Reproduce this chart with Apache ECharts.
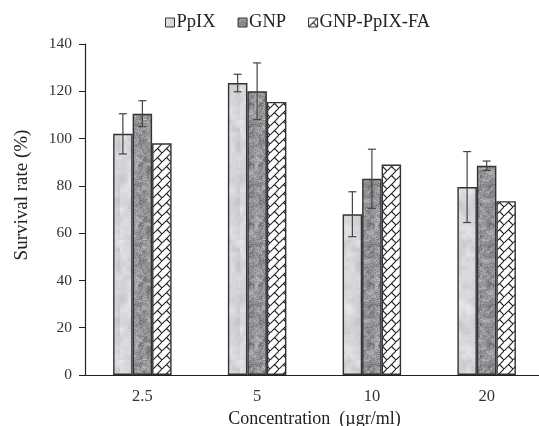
<!DOCTYPE html>
<html>
<head>
<meta charset="utf-8">
<script src="https://cdn.jsdelivr.net/npm/echarts@6/dist/echarts.min.js"></script>
<style>
  html, body { margin: 0; padding: 0; background: #fff; }
  #chart { width: 539px; height: 426px; }
</style>
</head>
<body>
<div id="chart"></div>
<script>
// Cell viability at each concentration (mean and standard deviation)
const categories = ['2.5', '5', '10', '20'];
const seriesNames = ['PpIX', 'GNP', 'GNP-PpIX-FA'];
const ppixMean = [102, 123.5, 68, 79.5];
const ppixErr = [8.5, 3.7, 9.5, 15];
const gnpMean = [110.5, 120, 83, 88.5];
const gnpErr = [5.5, 12, 12.5, 2];
const faMean = [98, 115.5, 89, 73.5];
const faErr = [0, 0, 0, 0];

const FONT = '"Liberation Serif", "Times New Roman", serif';

// deterministic hash noise for the bar textures
function hash(x, y, s) {
  let h = (x * 374761393 + y * 668265263 + s * 1442695041) | 0;
  h = (h ^ (h >>> 13)) * 1274126177 | 0;
  h = h ^ (h >>> 16);
  return ((h >>> 0) % 10000) / 10000;
}
function smoothNoise(x, y, scale, s) {
  const gx = Math.floor(x / scale), gy = Math.floor(y / scale);
  const fx = x / scale - gx, fy = y / scale - gy;
  const a = hash(gx, gy, s), b = hash(gx + 1, gy, s);
  const c = hash(gx, gy + 1, s), d = hash(gx + 1, gy + 1, s);
  const ux = fx * fx * (3 - 2 * fx), uy = fy * fy * (3 - 2 * fy);
  return a + (b - a) * ux + (c - a) * uy + (a - b - c + d) * ux * uy;
}
function textureCanvas(w, h, base, amp, scale, seed, speck) {
  const cv = document.createElement('canvas');
  cv.width = w; cv.height = h;
  const ctx = cv.getContext('2d');
  const img = ctx.createImageData(w, h);
  for (let y = 0; y < h; y++) {
    for (let x = 0; x < w; x++) {
      let n = smoothNoise(x, y, scale, seed) * 0.7 + smoothNoise(x, y, scale / 3, seed + 7) * 0.3;
      let v = base + (n - 0.5) * amp;
      if (speck) v += (hash(x, y, seed + 3) - 0.5) * speck;
      v = Math.max(0, Math.min(255, v));
      const i = (y * w + x) * 4;
      img.data[i] = v; img.data[i + 1] = v + 1; img.data[i + 2] = v + 4; img.data[i + 3] = 255;
    }
  }
  ctx.putImageData(img, 0, 0);
  return cv;
}
function zigzagCanvas() {
  const s = 9;
  const cv = document.createElement('canvas');
  cv.width = s; cv.height = s;
  const ctx = cv.getContext('2d');
  ctx.fillStyle = '#fff';
  ctx.fillRect(0, 0, s, s);
  ctx.strokeStyle = '#222';
  ctx.lineWidth = 1.1;
  ctx.beginPath();
  ctx.moveTo(-1, s + 1); ctx.lineTo(s + 1, -1);
  ctx.moveTo(s / 2, s / 2); ctx.lineTo(s, s);
  ctx.stroke();
  return cv;
}

const ppixFill = { image: textureCanvas(40, 120, 214, 50, 14, 1, 8), repeat: 'repeat' };
const gnpFill = { image: textureCanvas(40, 60, 146, 80, 4, 5, 40), repeat: 'repeat' };
const faFill = { image: zigzagCanvas(), repeat: 'repeat' };

const fills = [ppixFill, gnpFill, faFill];
const means = [ppixMean, gnpMean, faMean];
const errs = [ppixErr, gnpErr, faErr];
const BAR_W = 19.5;

const chart = echarts.init(document.getElementById('chart'));

const barSeries = seriesNames.map((name, k) => ({
  name: name,
  type: 'bar',
  data: means[k],
  barWidth: BAR_W,
  barGap: '0%',
  itemStyle: { color: fills[k], borderColor: '#333', borderWidth: 1.4 },
  z: 2
}));

// error bars drawn at the centre of each bar in its group
const errSeries = seriesNames.map((name, k) => ({
  type: 'custom',
  name: name + ' err',
  data: means[k].map((m, i) => [i, m - errs[k][i], m + errs[k][i]]),
  renderItem: function (params, api) {
    const i = api.value(0);
    if (api.value(2) - api.value(1) <= 0) return null;
    const lo = api.coord([i, api.value(1)]);
    const hi = api.coord([i, api.value(2)]);
    const x = lo[0] + (k - 1) * BAR_W;
    const cap = 4;
    const st = { stroke: '#444', lineWidth: 1.2 };
    return {
      type: 'group',
      children: [
        { type: 'line', shape: { x1: x, y1: hi[1], x2: x, y2: lo[1] }, style: st },
        { type: 'line', shape: { x1: x - cap, y1: hi[1], x2: x + cap, y2: hi[1] }, style: st },
        { type: 'line', shape: { x1: x - cap, y1: lo[1], x2: x + cap, y2: lo[1] }, style: st }
      ]
    };
  },
  z: 5,
  silent: true
}));

chart.setOption({
  animation: false,
  textStyle: { fontFamily: FONT },
  legend: {
    data: seriesNames,
    top: 8,
    left: 160,
    itemWidth: 9,
    itemHeight: 9,
    itemGap: 22,
    icon: 'rect',
    itemStyle: { borderColor: '#333', borderWidth: 1 },
    textStyle: { fontFamily: FONT, fontSize: 18.5, color: '#222', padding: [0, 0, 0, -3] }
  },
  grid: { left: 85, right: -5, top: 44, bottom: 51, outerBoundsMode: 'none', containLabel: false },
  graphic: [{
    type: 'text',
    x: 22,
    y: 195,
    rotation: Math.PI / 2,
    style: {
      text: 'Survival rate (%)',
      fontFamily: FONT,
      fontSize: 19,
      fill: '#222',
      align: 'center',
      verticalAlign: 'middle'
    }
  }],
  xAxis: {
    type: 'category',
    data: categories,
    axisLine: { lineStyle: { color: '#222', width: 1.2 } },
    axisTick: { show: false },
    axisLabel: { fontFamily: FONT, fontSize: 16.5, color: '#333', margin: 13 },
    name: 'Concentration  (µgr/ml)',
    nameLocation: 'middle',
    nameGap: 30,
    nameTextStyle: { fontFamily: FONT, fontSize: 18, color: '#222' }
  },
  yAxis: {
    type: 'value',
    min: 0,
    max: 140,
    interval: 20,
    splitLine: { show: false },
    axisLine: { show: true, lineStyle: { color: '#222', width: 1.2 } },
    axisTick: { show: true, length: 6, inside: false, lineStyle: { color: '#222' } },
    axisLabel: { fontFamily: FONT, fontSize: 15.5, color: '#333', margin: 13 }
  },
  series: barSeries.concat(errSeries)
});
</script>
</body>
</html>
